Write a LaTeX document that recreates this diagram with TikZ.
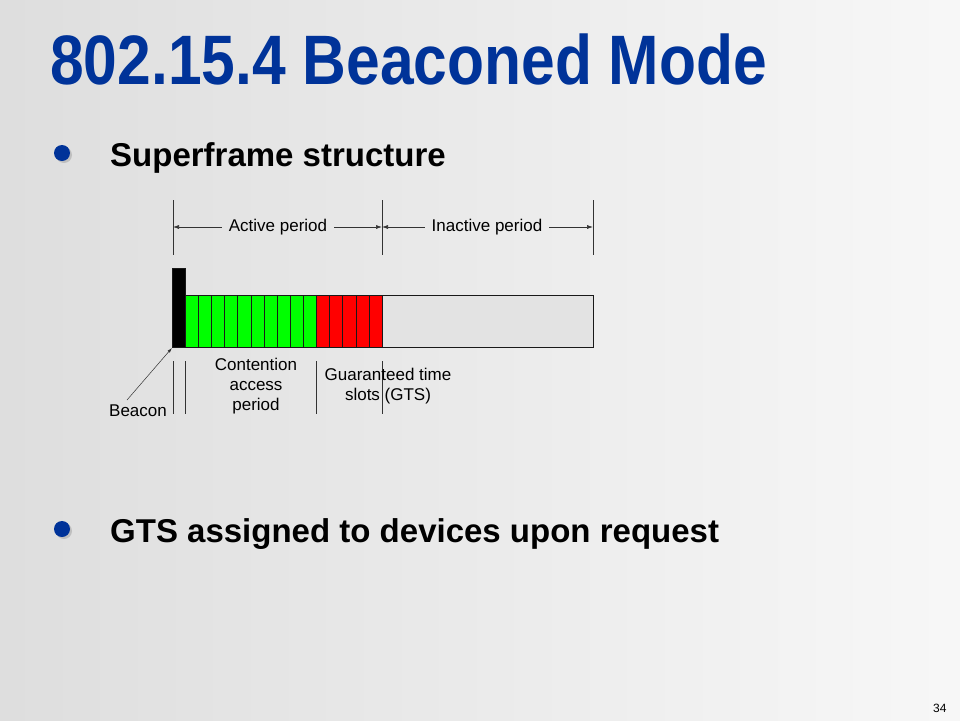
\documentclass[tikz,border=0pt]{standalone}
\usepackage{fontspec}
\setmainfont{Liberation Sans}
\newfontfamily\headfont[FakeStretch=0.865]{Liberation Sans}
\usetikzlibrary{arrows.meta,positioning,calc}
\definecolor{tBlue}{HTML}{003399}
\definecolor{sGreen}{HTML}{00FF00}
\definecolor{sRed}{HTML}{FF0000}
\definecolor{sIdle}{HTML}{E3E3E3}
\tikzset{
  ttl/.style={font=\headfont\bfseries\fontsize{70}{80}\selectfont, text=tBlue, anchor=base west, inner sep=0pt},
  bul/.style={font=\bfseries\fontsize{33}{40}\selectfont, anchor=base west, inner sep=0pt},
  lbl/.style={font=\fontsize{17}{20}\selectfont, align=center, inner sep=1pt},
  slot/.style={draw=black!90, line width=0.9pt, fill=#1, inner sep=0pt, anchor=north west},
  tick/.style={black!80, line width=0.6pt},
  dim/.style={-{Latex[length=6pt,width=4pt]}, line width=0.6pt, black!80},
}
\begin{document}
\begin{tikzpicture}[x=1pt,y=-1pt]
\useasboundingbox (0,0) rectangle (960,720);
% ================= background =================
\shade[left color=black!13, right color=black!3] (0,0) rectangle (960,720);
% ================= title and bullets =================
\node[ttl] (title) at (50,84) {802.15.4 Beaconed Mode};
\foreach \nm/\y/\t in {b1/166/Superframe structure, b2/542/GTS assigned to devices upon request}{
  \fill[black!25] (64,\y-11) circle (8);
  \fill[tBlue] (62,\y-13) circle (8);
  \node[bul] (\nm) at (110,\y) {\t};}
% ================= superframe =================
\node[slot=black, minimum width=13pt, minimum height=79pt] (bcn) at (172,268) {};
\foreach \i in {0,...,9}{\node[slot=sGreen, minimum width=13.1pt, minimum height=52pt] (c\i) at (185+13.1*\i,295) {};}
\foreach \i in {0,...,4}{\node[slot=sRed, minimum width=13.2pt, minimum height=52pt] (g\i) at (316+13.2*\i,295) {};}
\node[slot=sIdle, minimum width=211pt, minimum height=52pt] (idle) at (382,295) {};
% ================= period marks =================
\foreach \x in {173,382,593}{\draw[tick] (\x,200) -- (\x,255);}
\coordinate (aL) at (173,227); \coordinate (aM) at (382,227); \coordinate (aR) at (593,227);
\node[lbl, inner xsep=7pt] (act) at (278,227) {Active period};
\node[lbl, inner xsep=7pt] (inact) at (487,227) {Inactive period};
\draw[dim] (act.west) -- (aL);
\draw[dim] (act.east) -- (aM);
\draw[dim] (inact.west) -- (aM);
\draw[dim] (inact.east) -- (aR);
% ================= lower labels =================
\foreach \x in {173,185,316,382}{\draw[tick] (\x,361) -- (\x,414);}
\node[lbl, anchor=base west] (bname) at (108,416) {Beacon};
\coordinate (bfoot) at (127,400);
\draw[-{Latex[length=5pt,width=3pt]}, line width=0.5pt, black!80] (bfoot) -- (bcn.south west);
\node[lbl] (cap) at (256,386) {Contention\\ access\\ period};
\node[lbl] (gts) at (388,386) {Guaranteed time\\ slots (GTS)};
% ================= page number =================
\node[font=\fontsize{12}{14}\selectfont, anchor=base east] (pg) at (950,712) {34};
\end{tikzpicture}
\end{document}
